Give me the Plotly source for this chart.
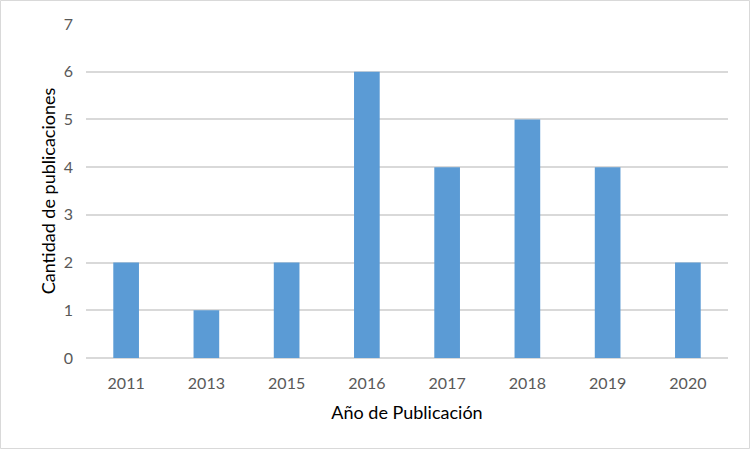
import plotly.graph_objects as go

years = ["2011", "2013", "2015", "2016", "2017", "2018", "2019", "2020"]
counts = [2, 1, 2, 6, 4, 5, 4, 2]
y_ticks = [0, 1, 2, 3, 4, 5, 6, 7]

W, H = 750, 449
ml, mr, mt, mb = 86, 22, 24, 91
pw, ph = W - ml - mr, H - mt - mb

fig = go.Figure(go.Bar(
    x=years, y=counts,
    marker=dict(color="#5B9BD5", line=dict(width=0)),
    width=0.32,
))

font_family = "Lato, Open Sans, sans-serif"
fig.update_layout(
    width=W, height=H,
    margin=dict(l=ml, r=mr, t=mt, b=mb),
    paper_bgcolor="white", plot_bgcolor="white",
    showlegend=False,
    font=dict(family=font_family, color="#595959", size=16),
)
fig.update_xaxes(
    type="category",
    showgrid=False, showline=False, zeroline=False, ticks="",
    tickfont=dict(size=16, color="#595959"),
    ticklabelstandoff=14,
    title=dict(text="Año de Publicación", font=dict(size=18, color="#000000"), standoff=15),
)
fig.update_yaxes(
    range=[0, 7], tickvals=y_ticks,
    showgrid=True, gridcolor="#D9D9D9", gridwidth=1.5,
    zeroline=True, zerolinecolor="#D9D9D9", zerolinewidth=1.5,
    showline=False, ticks="",
    tickfont=dict(size=16, color="#595959"),
    ticklabelstandoff=12,
    title=dict(text="Cantidad de publicaciones", font=dict(size=18, color="#000000"), standoff=3),
)
# outer chart border
fig.add_shape(
    type="rect", xref="paper", yref="paper",
    x0=(-ml + 0.5) / pw, x1=1 + (mr - 0.5) / pw,
    y0=(-mb + 0.5) / ph, y1=1 + (mt - 0.5) / ph,
    line=dict(color="#D9D9D9", width=1), layer="below",
)
fig.write_html(
    "out.html",
    config={"displayModeBar": False},
    post_script="document.body.style.margin='0';document.body.style.overflow='hidden';",
)
